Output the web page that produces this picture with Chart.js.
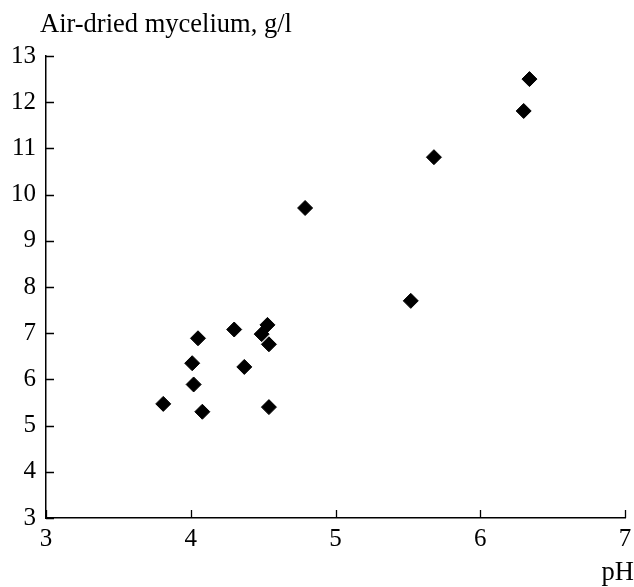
<!DOCTYPE html>
<html>
<head>
<meta charset="utf-8">
<script src="https://cdn.jsdelivr.net/npm/chart.js@4.4.1/dist/chart.umd.min.js"></script>
<style>
  body { margin: 0; background: #fff; }
  #wrap { width: 634px; height: 587px; position: relative; }
</style>
</head>
<body>
<div id="wrap"><canvas id="myceliumChart"></canvas></div>
<script>
// values
const phValues = [3.81, 4.01, 4.02, 4.05, 4.08, 4.30, 4.37, 4.49, 4.53, 4.54, 4.54, 4.79, 5.52, 5.68, 6.30, 6.34];
const myceliumValues = [5.47, 6.35, 5.89, 6.89, 5.30, 7.08, 6.27, 6.98, 7.18, 6.76, 5.40, 9.71, 7.70, 10.81, 11.81, 12.50];
const xTicks = [3, 4, 5, 6, 7];
const yTicks = [3, 4, 5, 6, 7, 8, 9, 10, 11, 12, 13];

const yTitle = 'Air-dried mycelium, g/l';
const xTitle = 'pH';
const fontFamily = '"Liberation Serif", "Times New Roman", serif';

const points = phValues.map((x, i) => ({ x: x, y: myceliumValues[i] }));

// ticks pointing into the plot, plus the two axis titles
const axisExtras = {
    id: 'axisExtras',
    afterDraw(chart) {
        const c = chart.ctx;
        const area = chart.chartArea;
        const sx = chart.scales.x;
        const sy = chart.scales.y;
        c.save();
        c.strokeStyle = '#000';
        c.lineWidth = 1.3;
        c.beginPath();
        xTicks.forEach(v => {
            const px = Math.round(sx.getPixelForValue(v)) + 0.5;
            c.moveTo(px, area.bottom);
            c.lineTo(px, area.bottom - 8);
        });
        yTicks.forEach(v => {
            const py = Math.round(sy.getPixelForValue(v)) + 0.5;
            c.moveTo(area.left, py);
            c.lineTo(area.left + 8, py);
        });
        c.stroke();

        c.fillStyle = '#000';
        c.font = '26.5px ' + fontFamily;
        c.textBaseline = 'alphabetic';
        c.textAlign = 'left';
        c.fillText(yTitle, 40, 32);
        c.textAlign = 'right';
        c.fillText(xTitle, 634, 580);
        c.restore();
    }
};

const ctx = document.getElementById('myceliumChart').getContext('2d');

const myceliumChart = new Chart(ctx, {
    type: 'scatter',
    data: {
        datasets: [{
            data: points,
            pointStyle: 'rectRot',
            pointRadius: 7.5,
            pointHoverRadius: 7.5,
            backgroundColor: '#000',
            borderColor: '#000',
            borderWidth: 1
        }]
    },
    options: {
        responsive: true,
        maintainAspectRatio: false,
        animation: false,
        layout: { padding: { top: 56, right: 0, left: 0, bottom: 0 } },
        plugins: {
            legend: { display: false },
            tooltip: { enabled: false }
        },
        scales: {
            x: {
                type: 'linear',
                min: 3,
                max: 7,
                afterFit(scale) {
                    scale.height = 69;
                    scale.paddingLeft = 0;
                    scale.paddingRight = 9;
                },
                afterBuildTicks(scale) { scale.ticks = xTicks.map(v => ({ value: v })); },
                grid: { display: false, drawTicks: false },
                border: { display: true, color: '#000', width: 1.5 },
                ticks: {
                    color: '#000',
                    padding: 6,
                    maxRotation: 0,
                    font: { family: fontFamily, size: 25 }
                }
            },
            y: {
                type: 'linear',
                min: 3,
                max: 13,
                afterFit(scale) { scale.width = 46; },
                afterBuildTicks(scale) { scale.ticks = yTicks.map(v => ({ value: v })); },
                grid: { display: false, drawTicks: false },
                border: { display: true, color: '#000', width: 1.5 },
                ticks: {
                    color: '#000',
                    padding: 10,
                    font: { family: fontFamily, size: 25 }
                }
            }
        }
    },
    plugins: [axisExtras]
});
</script>
</body>
</html>
